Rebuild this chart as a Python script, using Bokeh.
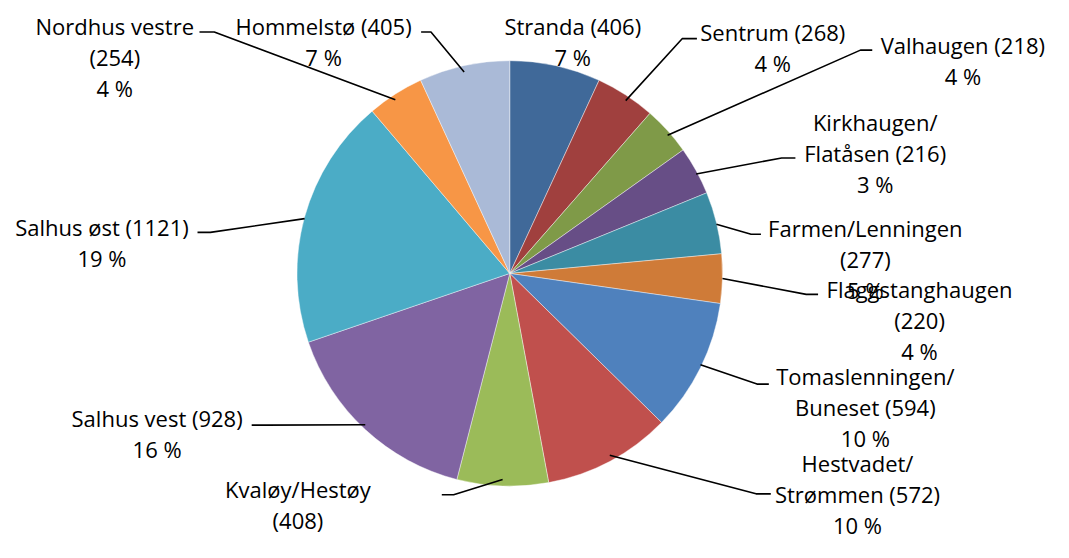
import math
from bokeh.plotting import figure
from bokeh.models import Range1d, ColumnDataSource
from bokeh.core.properties import value
from bokeh.embed import file_html
from bokeh.resources import INLINE

# ---- data ----
names = ["Stranda", "Sentrum", "Valhaugen", "Kirkhaugen/Flatåsen", "Farmen/Lenningen",
         "Flaggstanghaugen", "Tomaslenningen/Buneset", "Hestvadet/Strømmen", "Kvaløy/Hestøy",
         "Salhus vest", "Salhus øst", "Nordhus vestre", "Hommelstø"]
counts = [406, 268, 218, 216, 277, 220, 594, 572, 408, 928, 1121, 254, 405]
pct_labels = [7, 4, 4, 3, 5, 4, 10, 10, 7, 16, 19, 4, 7]
colors = ["#406999", "#A0403E", "#7F9A48", "#674E86", "#3B8CA3", "#CF7B38", "#4F81BD",
          "#C0504D", "#9BBB59", "#8064A2", "#4BACC6", "#F79646", "#AABAD7"]

# ---- layout (positions in reference-image pixels, 1069x558) ----
IMG_W, IMG_H = 1069, 558
BOTTOM_PAD = 10
CX, CY, R = 517, 286, 216
# label line breaking mode: none / slash / paren
breaks = ["none", "none", "none", "slash", "paren", "paren", "slash", "slash", "paren",
          "none", "none", "paren", "none"]
label_pos = [(581, 27), (784, 33), (977, 47), (888, 127), (878, 238), (933, 302),
             (878, 393), (870, 485), (302, 512), (159, 438), (103, 237), (116, 27), (328, 27)]
# leader elbow and end (None = no leader)
leaders = [None,
           ((692, 40), (707, 40)),
           ((873, 52), (885, 52)),
           ((793, 165), (807, 165)),
           ((762, 245), (772, 245)),
           ((818, 308), (830, 308)),
           ((768, 402), (780, 402)),
           ((767, 517), (782, 517)),
           ((460, 518), (448, 518)),
           ((270, 445), (255, 445)),
           ((213, 243), (200, 243)),
           ((217, 33), (202, 33)),
           ((437, 33), (427, 33))]
LINE_H = 32.5
FONT = "Open Sans"
FONT_SIZE = "22px"


def Y(py):
    return IMG_H - py


total = sum(counts)
starts, ends = [], []
cum = 0.0
for c in counts:
    starts.append(cum / total)
    cum += c
    ends.append(cum / total)

src = ColumnDataSource(dict(
    start=[math.pi / 2 - 2 * math.pi * s for s in starts],
    end=[math.pi / 2 - 2 * math.pi * e for e in ends],
    color=colors,
))

p = figure(width=1053, height=542, x_range=Range1d(0, IMG_W),
           y_range=Range1d(-BOTTOM_PAD, IMG_H),
           output_backend="svg", toolbar_location=None, min_border=0)
p.axis.visible = False
p.grid.visible = False
p.outline_line_color = None
p.background_fill_color = "white"

p.wedge(x=CX, y=Y(CY), radius=R, start_angle="start", end_angle="end", direction="clock",
        fill_color="color", line_color="white", line_width=0.6, line_alpha=0.7, source=src)

# leader lines
xs, ys = [], []
for i, ld in enumerate(leaders):
    if ld is None:
        continue
    mid = (starts[i] + ends[i]) / 2 * 2 * math.pi
    sx = CX + R * math.sin(mid)
    sy = CY - R * math.cos(mid)
    (ex, ey), (tx, ty) = ld
    xs.append([sx, ex, tx])
    ys.append([Y(sy), Y(ey), Y(ty)])
p.multi_line(xs=xs, ys=ys, line_color="black", line_width=1.6)

# labels (lines that fall wholly below the picture, as in the reference, are not drawn)
tx_, ty_, tt_ = [], [], []
for i, n in enumerate(names):
    head = f"{n} ({counts[i]})"
    if breaks[i] == "slash":
        a, b = n.split("/", 1)
        lines = [a + "/", f"{b} ({counts[i]})"]
    elif breaks[i] == "paren":
        lines = [n, f"({counts[i]})"]
    else:
        lines = [head]
    lines.append(f"{pct_labels[i]} %")
    lx, ly = label_pos[i]
    for k, ln in enumerate(lines):
        yy = ly + k * LINE_H
        if yy > IMG_H:
            continue
        tx_.append(lx)
        ty_.append(Y(yy))
        tt_.append(ln)
p.text(x=tx_, y=ty_, text=tt_, text_align="center", text_baseline="middle",
       text_font=value(FONT), text_font_size=FONT_SIZE, text_color="black")

open("out.html", "w").write(file_html(p, INLINE))
